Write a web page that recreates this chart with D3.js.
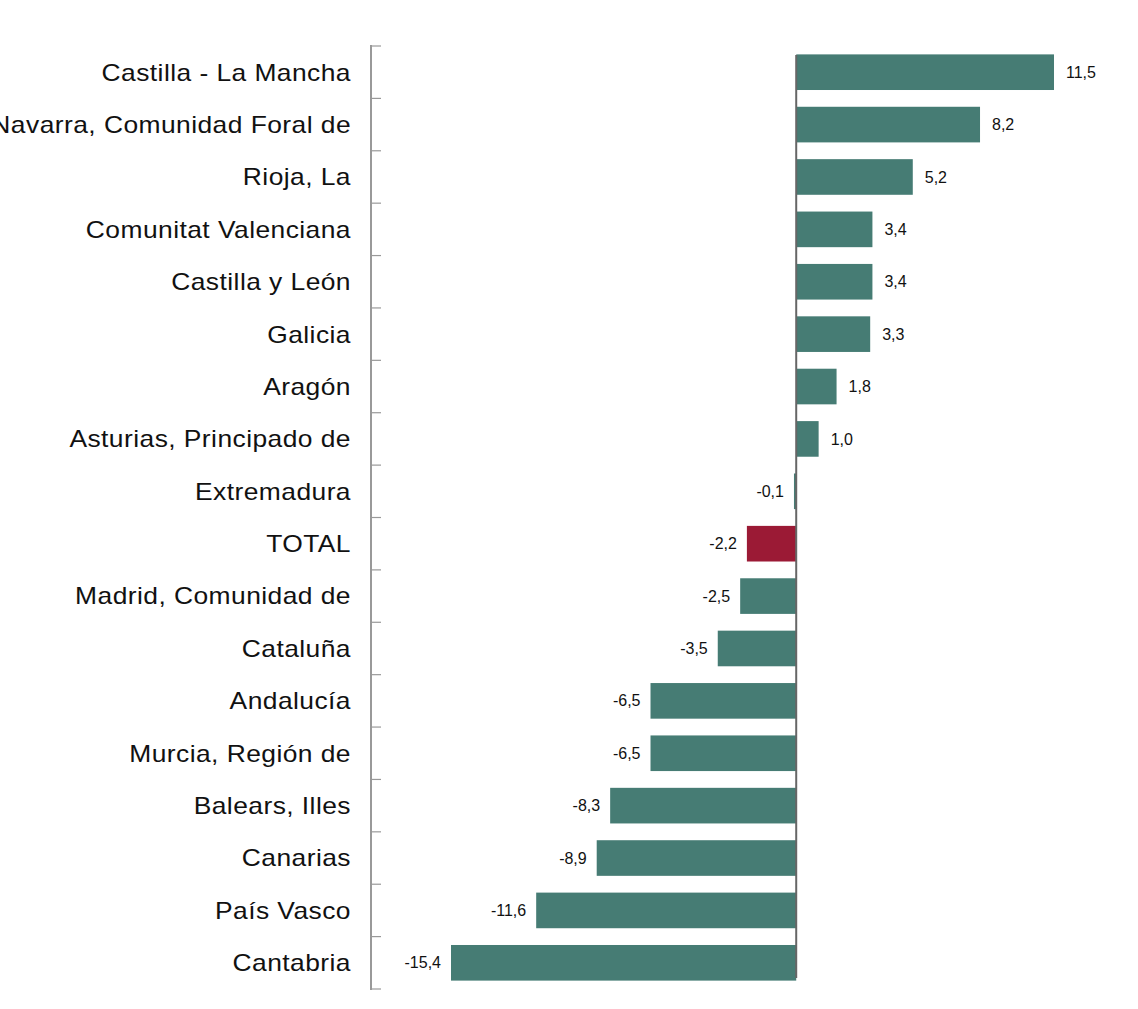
<!DOCTYPE html>
<html><head><meta charset="utf-8">
<script src="https://cdn.jsdelivr.net/npm/d3@7"></script>
<style>body{margin:0;background:#fff}</style>
</head><body>
<svg id="chart" width="1138" height="1009"></svg>
<script>
// regions, top to bottom
const regions = ['Castilla - La Mancha', 'Navarra, Comunidad Foral de', 'Rioja, La', 'Comunitat Valenciana',
  'Castilla y León', 'Galicia', 'Aragón', 'Asturias, Principado de', 'Extremadura', 'TOTAL',
  'Madrid, Comunidad de', 'Cataluña', 'Andalucía', 'Murcia, Región de', 'Balears, Illes',
  'Canarias', 'País Vasco', 'Cantabria'];
const values = [11.5, 8.2, 5.2, 3.4, 3.4, 3.3, 1.8, 1.0, -0.1, -2.2, -2.5, -3.5, -6.5, -6.5, -8.3, -8.9, -11.6, -15.4];

const data = regions.map((r, i) => ({ region: r, value: values[i] }));
const svg = d3.select('#chart');

const x = d3.scaleLinear().domain([-15.4, 11.5]).range([451, 1054]);
const y = d3.scaleBand().domain(regions).range([46, 989]).paddingInner(0.32).paddingOuter(0.16);
const fmt = v => d3.format('.1f')(v).replace('.', ',').replace('\u2212', '-');

// left axis with ticks at band boundaries
svg.append('line').attr('x1', 371).attr('x2', 371).attr('y1', 45).attr('y2', 990)
  .attr('stroke', '#777').attr('stroke-width', 1.5);
d3.range(regions.length + 1).forEach(i => {
  const ty = y.range()[0] + i * (943 / regions.length);
  svg.append('line').attr('x1', 371).attr('x2', 381).attr('y1', ty).attr('y2', ty)
    .attr('stroke', '#999').attr('stroke-width', 1.2);
});

svg.selectAll('text.cat').data(data).enter().append('text')
  .attr('class', 'cat')
  .attr('x', 351).attr('y', d => y(d.region) + y.bandwidth() / 2)
  .attr('dy', '0.35em').attr('text-anchor', 'end')
  .style('font', '24px "Liberation Sans", Arial, sans-serif')
  .style('letter-spacing', '0.4px').attr('fill', '#111')
  .attr('textLength', function () { return null; })
  .text(d => d.region);

// stretch labels to match the wider font of the original
svg.selectAll('text.cat').each(function () {
  const w = this.getComputedTextLength();
  d3.select(this).attr('textLength', w * 1.1).attr('lengthAdjust', 'spacingAndGlyphs');
});

svg.selectAll('rect.bar').data(data).enter().append('rect')
  .attr('class', 'bar')
  .attr('x', d => x(Math.min(0, d.value)))
  .attr('width', d => Math.max(1.5, Math.abs(x(d.value) - x(0))))
  .attr('y', d => y(d.region)).attr('height', y.bandwidth())
  .attr('fill', d => d.region === 'TOTAL' ? '#9b1a35' : '#467c74');

svg.selectAll('text.val').data(data).enter().append('text')
  .attr('class', 'val')
  .attr('x', d => d.value >= 0 ? x(d.value) + 12 : x(d.value) - 10)
  .attr('y', d => y(d.region) + y.bandwidth() / 2)
  .attr('dy', '0.35em').attr('text-anchor', d => d.value >= 0 ? 'start' : 'end')
  .style('font', '16px "Liberation Sans", Arial, sans-serif').attr('fill', '#111')
  .text(d => fmt(d.value));

// zero line
svg.append('line').attr('x1', x(0)).attr('x2', x(0)).attr('y1', 55).attr('y2', 978)
  .attr('stroke', '#666').attr('stroke-width', 2);
</script>
</body></html>
